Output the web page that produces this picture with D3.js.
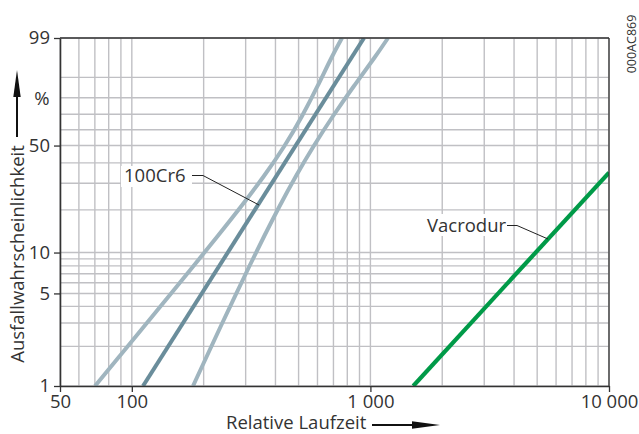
<!DOCTYPE html>
<html>
<head>
<meta charset="utf-8">
<script src="https://cdn.jsdelivr.net/npm/d3@7"></script>
<style>
  html, body { margin: 0; padding: 0; background: #fff; }
  svg { display: block; }
  text { font-family: "Open Sans", "Noto Sans", sans-serif; fill: #333; }
</style>
</head>
<body>
<svg id="chart" width="639" height="434"></svg>
<script>
// ---- data ----
const xTickValues = [50, 100, 1000, 10000];
const xTickLabels = ["50", "100", "1 000", "10 000"];
const yTickValues = [1, 5, 10, 50, 99];
const yTickLabels = ["1", "5", "10", "50", "99"];
const xGridValues = [50, 60, 70, 80, 90, 100, 200, 300, 400, 500, 600, 700, 800, 900,
                     1000, 2000, 3000, 4000, 5000, 6000, 7000, 8000, 9000, 10000];
const yGridValues = [1, 2, 3, 4, 5, 6, 7, 8, 9, 10, 20, 30, 40, 50, 60, 70, 80, 90, 99];

// 100Cr6: left confidence bound, median, right confidence bound — [relative time, percent]
const cr6Left = [[70.1, 1], [89.0, 1.69], [112.9, 2.85], [143.2, 4.78], [181.4, 7.98], [229.3, 13.15],
                 [288.5, 21.27], [359.1, 33.33], [438.2, 49.73], [518.8, 68.85], [601.8, 86.17],
                 [690.8, 96.51], [760, 99]];
const cr6Median = [[111.4, 1], [940, 99]];
const cr6Right = [[180.5, 1], [206.4, 1.69], [236.1, 2.85], [270.7, 4.78], [311.1, 7.98], [358.7, 13.15],
                  [415.9, 21.27], [486.7, 33.33], [577.3, 49.73], [695.5, 68.85], [851.8, 86.17],
                  [1054.4, 96.51], [1185, 99]];
// Vacrodur
const vacrodur = [[1512, 1], [10000, 35]];

// ---- scales ----
const m = { left: 60, right: 609, top: 38, bottom: 386 };
const weib = p => Math.log(-Math.log(1 - p / 100));
const x = d3.scaleLog().domain([50, 10000]).range([m.left, m.right]);
const yLin = d3.scaleLinear().domain([weib(1), weib(99)]).range([m.bottom, m.top]);
const y = p => yLin(weib(p));
const FS = 18.5;

const svg = d3.select("#chart");

// grid
const grid = svg.append("g").attr("stroke", "#c0c0c4").attr("stroke-width", 1.4);
grid.selectAll("line.vx").data(xGridValues).join("line")
  .attr("x1", d => x(d)).attr("x2", d => x(d))
  .attr("y1", m.top).attr("y2", m.bottom);
grid.selectAll("line.hy").data(yGridValues).join("line")
  .attr("x1", m.left).attr("x2", m.right)
  .attr("y1", d => y(d)).attr("y2", d => y(d));

// clip
svg.append("clipPath").attr("id", "plotclip").append("rect")
  .attr("x", m.left).attr("y", m.top).attr("width", m.right - m.left).attr("height", m.bottom - m.top);

const line = d3.line().x(d => x(d[0])).y(d => y(d[1])).curve(d3.curveBasis);
const lines = svg.append("g").attr("clip-path", "url(#plotclip)").attr("fill", "none");
lines.append("path").datum(cr6Left).attr("d", line).attr("stroke", "#a0b5bf").attr("stroke-width", 4);
lines.append("path").datum(cr6Right).attr("d", line).attr("stroke", "#a0b5bf").attr("stroke-width", 4);
lines.append("path").datum(cr6Median).attr("d", line).attr("stroke", "#6a8d9b").attr("stroke-width", 4);
lines.append("path").datum(vacrodur).attr("d", line).attr("stroke", "#009a48").attr("stroke-width", 4.2);

// frame
const frame = svg.append("g").attr("stroke", "#333").attr("fill", "none");
frame.append("line").attr("x1", m.left).attr("x2", m.right).attr("y1", m.top).attr("y2", m.top).attr("stroke-width", 1.3);
frame.append("line").attr("x1", m.right).attr("x2", m.right).attr("y1", m.top).attr("y2", m.bottom).attr("stroke-width", 1.3);

// axes
const xAxis = d3.axisBottom(x).tickValues(xTickValues)
  .tickFormat((d, i) => xTickLabels[i]).tickSize(6).tickSizeOuter(0).tickPadding(3);
const gx = svg.append("g").attr("transform", `translate(0,${m.bottom})`).call(xAxis);
gx.select(".domain").attr("stroke", "#333").attr("stroke-width", 1.6);
gx.selectAll(".tick line").attr("stroke", "#333").attr("stroke-width", 1.3);
gx.selectAll(".tick text").attr("font-size", FS).attr("fill", "#333")
  .attr("font-family", "'Open Sans', 'Noto Sans', sans-serif");

const yAxisScale = d3.scaleLinear().domain(yLin.domain()).range(yLin.range());
const yAxis = d3.axisLeft(yAxisScale).tickValues(yTickValues.map(weib))
  .tickFormat((d, i) => yTickLabels[i]).tickSize(6).tickSizeOuter(0).tickPadding(4);
const gy = svg.append("g").attr("transform", `translate(${m.left},0)`).call(yAxis);
gy.select(".domain").attr("stroke", "#333").attr("stroke-width", 1.6);
gy.selectAll(".tick line").attr("stroke", "#333").attr("stroke-width", 1.3);
gy.selectAll(".tick text").attr("font-size", FS).attr("fill", "#333")
  .attr("font-family", "'Open Sans', 'Noto Sans', sans-serif");

// percent unit
svg.append("text").attr("x", 42).attr("y", y(80) + 2).attr("text-anchor", "middle")
  .attr("dominant-baseline", "middle").attr("font-size", FS).text("%");

// y title + arrow
svg.append("text").attr("transform", "translate(23.5,254) rotate(-90)")
  .attr("text-anchor", "middle").attr("font-size", FS).text("Ausfallwahrscheinlichkeit");
svg.append("line").attr("x1", 17).attr("x2", 17).attr("y1", 137).attr("y2", 95)
  .attr("stroke", "#111").attr("stroke-width", 2);
svg.append("path").attr("d", "M17,70 L13.3,97 L20.7,97 Z").attr("fill", "#111");

// x title + arrow
svg.append("text").attr("x", 226).attr("y", 428.5).attr("font-size", FS).text("Relative Laufzeit");
svg.append("line").attr("x1", 372).attr("x2", 414).attr("y1", 425).attr("y2", 425)
  .attr("stroke", "#111").attr("stroke-width", 2);
svg.append("path").attr("d", "M440,425 L412,421.3 L412,428.7 Z").attr("fill", "#111");

// labels
function label(txt, tx, tyBase, bx, by, bw, bh, leader) {
  svg.append("rect").attr("x", bx).attr("y", by).attr("width", bw).attr("height", bh).attr("fill", "#fff");
  svg.append("text").attr("x", tx).attr("y", tyBase).attr("font-size", FS).text(txt);
  svg.append("polyline").attr("points", leader.map(p => p.join(",")).join(" "))
    .attr("fill", "none").attr("stroke", "#222").attr("stroke-width", 1);
}
label("100Cr6", 124, 182, 121, 166, 71, 21, [[192, 175.5], [203, 175.5], [259, 205]]);
label("Vacrodur", 427, 232, 424, 214, 84, 22, [[507, 225.5], [517, 225.5], [548, 239]]);

// figure code
svg.append("text").attr("transform", "translate(635.5,44) rotate(-90)")
  .attr("text-anchor", "middle").attr("font-size", 12.5)
  .attr("font-family", "'Liberation Sans', Arial, sans-serif").text("000AC869");
</script>
</body>
</html>
